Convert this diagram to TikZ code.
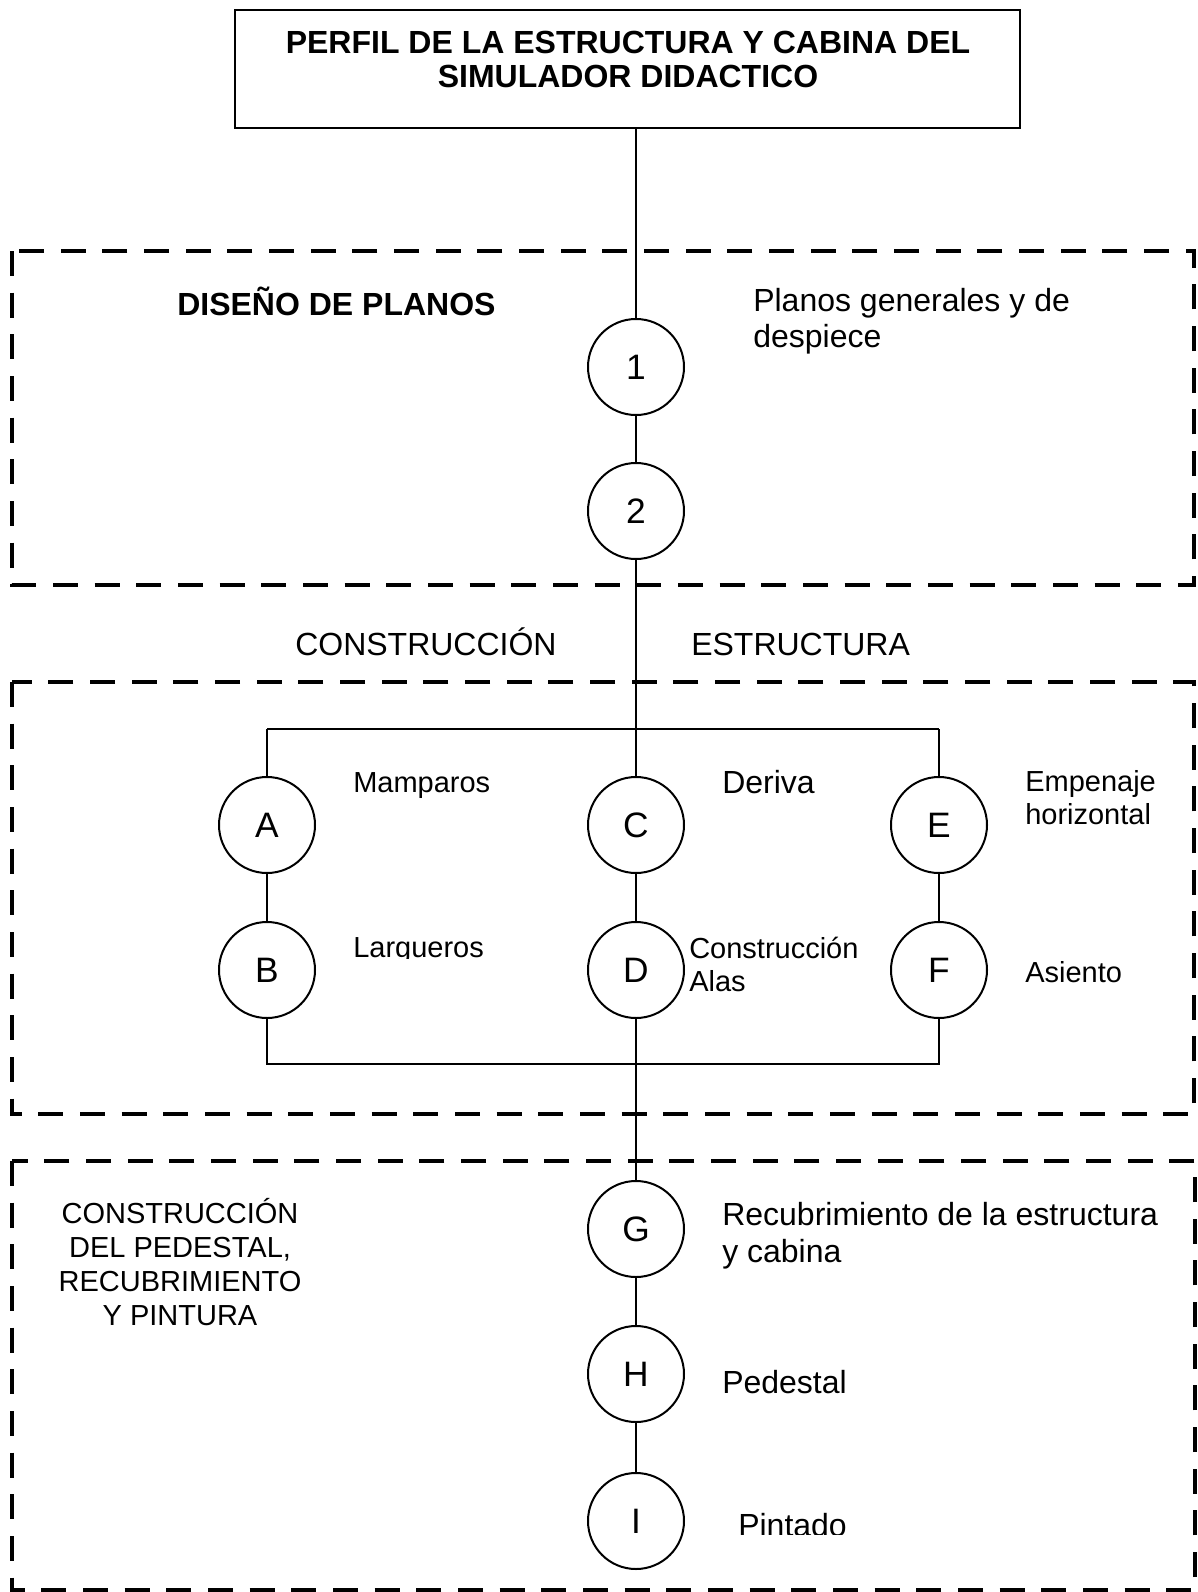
\documentclass[tikz,border=0pt]{standalone}
\usepackage{fontspec}
\setmainfont{Liberation Sans}
% two stacked lines, baseline of the node = baseline of the first line
\newcommand\twoleft[3]{\vtop{\baselineskip=#1\hbox{#2}\hbox{#3}}}
\newcommand\ctr[1]{\hbox to 0pt{\hss #1\hss}}
\begin{document}
\begin{tikzpicture}[x=0.75pt,y=-0.75pt,
  big/.style={font=\fontsize{24}{27}\selectfont},
  small/.style={font=\fontsize{21.75}{25}\selectfont},
  txt/.style={inner sep=0pt,anchor=base west},
  stepcircle/.style={circle,draw,line width=1.5pt,minimum size=72pt,inner sep=0pt,
    font=\fontsize{26.5}{30}\selectfont},
  link/.style={line width=1.5pt},
  zone/.style={line width=3.5pt,dash pattern=on 18.75pt off 12.5pt}]
\useasboundingbox (0,0) rectangle (1198,1592);

% title box
\node[draw,line width=1.5pt,minimum width=588.4pt,minimum height=88.5pt,inner sep=0pt]
  (title) at (627.75,69) {};
\node[inner sep=0pt,anchor=base,font=\bfseries\fontsize{24}{27}\selectfont] (titletext) at (628,53)
  {\vtop{\baselineskip=25.5pt\ctr{PERFIL DE LA ESTRUCTURA Y CABINA DEL}\ctr{SIMULADOR DIDACTICO}}};

% dashed zones
\draw[zone] (12,251) rectangle (1194,585);
\draw[zone] (12,682) rectangle (1194,1114);
\draw[zone] (12,1161) rectangle (1195,1590);

% circles
\node[stepcircle] (c1) at (636,367) {1};
\node[stepcircle] (c2) at (636,511) {2};
\node[stepcircle] (A) at (267,825) {A};
\node[stepcircle] (C) at (636,825) {C};
\node[stepcircle] (E) at (939,825) {E};
\node[stepcircle] (B) at (267,970) {B};
\node[stepcircle] (D) at (636,970) {D};
\node[stepcircle] (F) at (939,970) {F};
\node[stepcircle] (G) at (636,1229) {G};
\node[stepcircle] (H) at (636,1374) {H};
\node[stepcircle] (I) at (636,1521) {I};

% junction points
\coordinate (jtop) at (c1 |- title.south);
\coordinate (ja) at (267,729);
\coordinate (jt) at (636,729);
\coordinate (je) at (939,729);
\coordinate (jb) at (267,1064);
\coordinate (jf) at (939,1064);

% connectors
\draw[link] (jtop) -- (c1.north);
\draw[link] (c1) -- (c2);
\draw[link] (c2.south) -- (jt);
\draw[link] (ja) -- (je);
\draw[link] (ja) -- (A.north);
\draw[link] (jt) -- (C.north);
\draw[link] (je) -- (E.north);
\draw[link] (A) -- (B);
\draw[link] (C) -- (D);
\draw[link] (E) -- (F);
\draw[link] (B.south) -- (jb) -- (jf) -- (F.south);
\draw[link] (D.south) -- (G.north);
\draw[link] (G) -- (H);
\draw[link] (H) -- (I);

% labels
\node[txt,font=\bfseries\fontsize{24}{27}\selectfont] (lplanos) at (177,315) {DISEÑO DE PLANOS};
\node[txt,big] (lgen) at (753,311) {\twoleft{27pt}{Planos generales y de}{despiece}};
\node[txt,big] (lcons) at (295,655) {CONSTRUCCIÓN};
\node[txt,big] (lestr) at (691,655) {ESTRUCTURA};
\node[txt,small] (lmamp) at (353,792) {Mamparos};
\node[txt,big] (lderiva) at (722,793) {Deriva};
\node[txt,small] (lemp) at (1025,791) {\twoleft{24.75pt}{Empenaje}{horizontal}};
\begin{scope}
  \clip (330,900) rectangle (620,958.5);
  \node[txt,small] (llarg) at (353,957.5) {Largueros};
\end{scope}
\node[txt,small] (lalas) at (689,958) {\twoleft{24.75pt}{Construcción}{Alas}};
\node[txt,small] (lasiento) at (1025,982) {Asiento};
\node[inner sep=0pt,anchor=base,small] (lped) at (180,1223)
  {\vtop{\baselineskip=25.5pt\ctr{CONSTRUCCIÓN}\ctr{DEL PEDESTAL,}\ctr{RECUBRIMIENTO}\ctr{Y PINTURA}}};
\node[txt,big] (lrecub) at (722,1225) {\twoleft{27.75pt}{Recubrimiento de la estructura}{y cabina}};
\node[txt,big] (lpedestal) at (722,1393) {Pedestal};
\begin{scope}
  \clip (700,1480) rectangle (900,1534);
  \node[txt,big] (lpint) at (738,1536) {Pintado};
\end{scope}
\end{tikzpicture}
\end{document}
